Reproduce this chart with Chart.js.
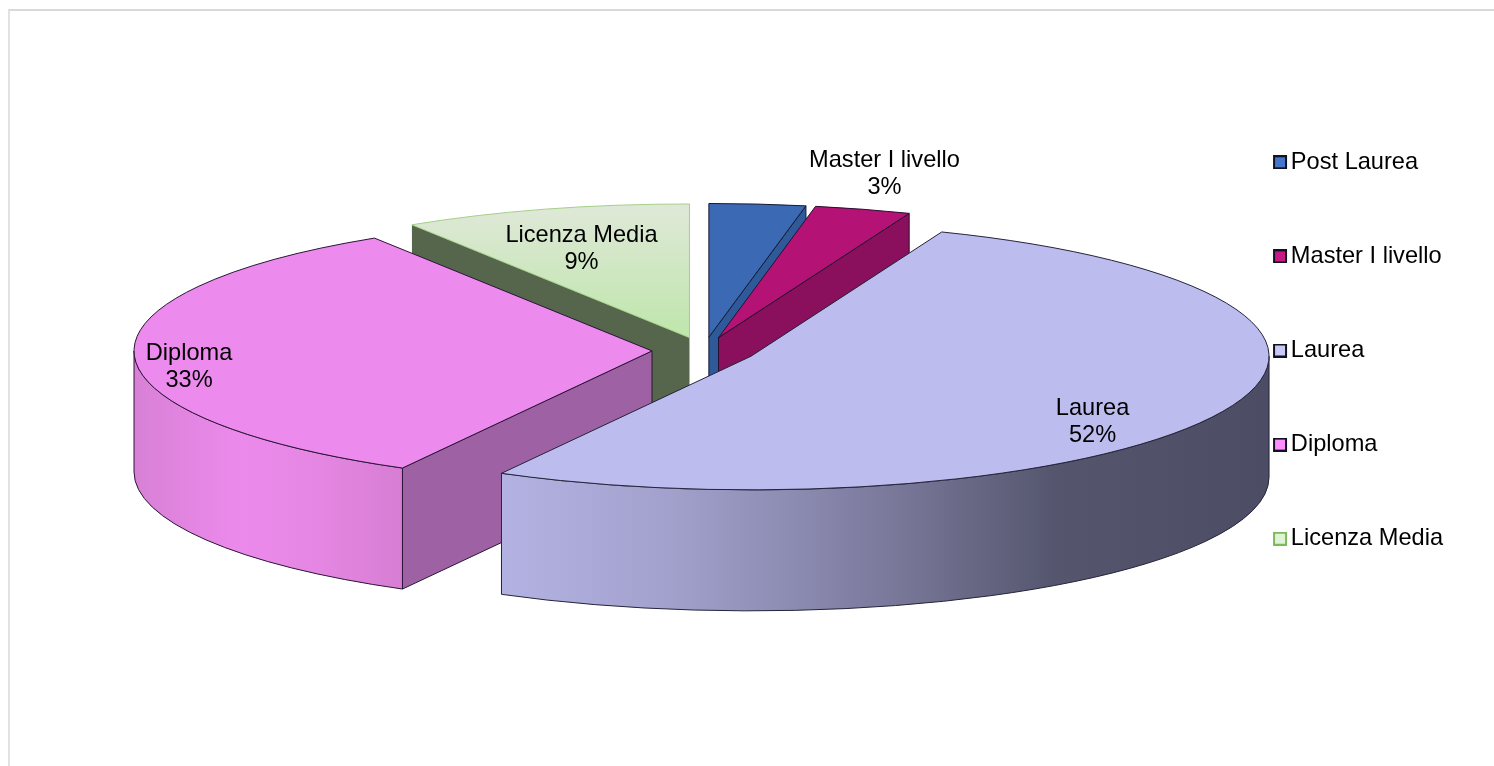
<!DOCTYPE html>
<html>
<head>
<meta charset="utf-8">
<title>Titolo di studio</title>
<script src="https://cdn.jsdelivr.net/npm/chart.js@4"></script>
<style>
  html, body { margin: 0; background: #fff; overflow: hidden; }
  #wrap { position: relative; width: 1494px; height: 766px; }
  #frame { position: absolute; left: 8px; top: 9px; right: 0; bottom: 0; border-top: 2px solid #d9d9d9; border-left: 2px solid #e2e2e2; }
  canvas { position: absolute; left: 0; top: 0; }
</style>
</head>
<body>
<div id="wrap">
  <div id="frame"></div>
  <canvas id="pieChart" width="1494" height="766"></canvas>
</div>
<script>
const categories = ['Post Laurea', 'Master I livello', 'Laurea', 'Diploma', 'Licenza Media'];
const percentages = [3, 3, 52, 33, 9];

// colori delle facce
const topColors = ['#3c69b4', '#b51276', '#bdbcee', '#ed8aed', null];
const wallColors = ['#2f5a99', '#8a0f5c', '#8f8fb8', '#9e62a4', '#56664c'];
const legendColors = ['#4477cc', '#c81888', '#c9c8f6', '#ff8cff', '#dff3d5'];
const legendBorders = ['#10131f', '#10131f', '#10131f', '#10131f', '#7fb85a'];
const edgeColors = ['#151a33', '#2a1030', '#23233a', '#2a1536', '#a5cf88'];

// fianchi curvi: gradiente orizzontale per fetta
const sideStops = {
  2: [[0, '#b3b2e2'], [0.22, '#a2a1cd'], [0.5, '#7b7a9c'], [0.72, '#55566e'], [1, '#4c4d64']],
  3: [[0, '#d880d6'], [0.4, '#ec8aec'], [0.7, '#e486e2'], [1, '#d77dd3']]
};

// ordine di disegno: dal fondo verso l'osservatore
const drawOrder = [4, 0, 1, 3, 2];
const squash = 0.258;
const depth = 121;
const explode = 52;
const fontFamily = '"Liberation Sans", Arial, sans-serif';
const fontSize = 23.6;

// posizione delle etichette rispetto al vertice della fetta
const labelOffsets = [null, [166, -163.5], [341.5, 66], [-463, 16], [-108, -89]];

function sliceGeometry(arc) {
  const mid = (arc.startAngle + arc.endAngle) / 2;
  return {
    ax: arc.x + explode * Math.cos(mid),
    ay: arc.y + squash * explode * Math.sin(mid),
    rx: arc.outerRadius,
    ry: arc.outerRadius * squash,
    mid
  };
}

function drawSide(ctx, g, from, to, i) {
  const x0 = g.ax + g.rx * Math.cos(to);
  const x1 = g.ax + g.rx * Math.cos(from);
  const left = Math.min(x0, x1), right = Math.max(x0, x1);
  const grad = ctx.createLinearGradient(left, 0, right, 0);
  sideStops[i].forEach(s => grad.addColorStop(s[0], s[1]));
  ctx.beginPath();
  ctx.ellipse(g.ax, g.ay, g.rx, g.ry, 0, from, to);
  ctx.ellipse(g.ax, g.ay + depth, g.rx, g.ry, 0, to, from, true);
  ctx.closePath();
  ctx.fillStyle = grad;
  ctx.fill();
  ctx.stroke();
}

function drawRadialWall(ctx, g, angle, i) {
  const ex = g.ax + g.rx * Math.cos(angle);
  const ey = g.ay + g.ry * Math.sin(angle);
  ctx.beginPath();
  ctx.moveTo(g.ax, g.ay);
  ctx.lineTo(ex, ey);
  ctx.lineTo(ex, ey + depth);
  ctx.lineTo(g.ax, g.ay + depth);
  ctx.closePath();
  ctx.fillStyle = wallColors[i];
  ctx.fill();
  if (i !== 4) ctx.stroke();
}

const pie3d = {
  id: 'pie3d',
  beforeDatasetsDraw(chart) {
    const ctx = chart.ctx;
    const arcs = chart.getDatasetMeta(0).data;
    drawOrder.forEach(i => {
      const arc = arcs[i];
      const g = sliceGeometry(arc);
      ctx.save();
      ctx.lineWidth = 1;
      ctx.lineJoin = 'round';
      ctx.strokeStyle = edgeColors[i];

      // solo le pareti radiali rivolte verso l'osservatore
      if (Math.cos(arc.startAngle) < 0) drawRadialWall(ctx, g, arc.startAngle, i);
      if (Math.cos(arc.endAngle) > 0) drawRadialWall(ctx, g, arc.endAngle, i);

      // fianco curvo solo nel tratto rivolto in avanti
      const from = Math.max(arc.startAngle, 0);
      const to = Math.min(arc.endAngle, Math.PI);
      if (to > from && sideStops[i]) drawSide(ctx, g, from, to, i);

      // faccia superiore: l'arco di Chart.js schiacciato in ellisse
      ctx.save();
      ctx.translate(g.ax - arc.x, g.ay);
      ctx.scale(1, squash);
      ctx.translate(0, -arc.y);
      arc.draw(ctx);
      ctx.restore();

      ctx.beginPath();
      ctx.moveTo(g.ax, g.ay);
      ctx.ellipse(g.ax, g.ay, g.rx, g.ry, 0, arc.startAngle, arc.endAngle);
      ctx.closePath();
      ctx.stroke();
      ctx.restore();
    });

    ctx.save();
    ctx.fillStyle = '#000';
    ctx.font = fontSize + 'px ' + fontFamily;
    ctx.textAlign = 'center';
    ctx.textBaseline = 'middle';
    arcs.forEach((arc, i) => {
      if (!labelOffsets[i]) return;
      const g = sliceGeometry(arc);
      const x = g.ax + labelOffsets[i][0];
      const y = g.ay + labelOffsets[i][1];
      ctx.fillText(categories[i], x, y - 13.5);
      ctx.fillText(percentages[i] + '%', x, y + 13.5);
    });
    ctx.restore();
    return false;
  }
};

// quadratino della legenda con margine trasparente a sinistra
function legendSwatch(i) {
  const c = document.createElement('canvas');
  c.width = 20;
  c.height = 14;
  const g = c.getContext('2d');
  g.fillStyle = legendColors[i];
  g.fillRect(5, 1, 12, 12);
  g.strokeStyle = legendBorders[i];
  g.lineWidth = 2;
  g.strokeRect(5, 1, 12, 12);
  return c;
}

new Chart(document.getElementById('pieChart').getContext('2d'), {
  type: 'pie',
  plugins: [pie3d],
  data: {
    labels: categories,
    datasets: [{
      data: percentages,
      borderWidth: 0,
      radius: 518,
      backgroundColor: (c) => {
        if (c.dataIndex !== 4) return topColors[c.dataIndex];
        const area = c.chart.chartArea;
        if (!area) return '#d0e6c0';
        const cy = (area.top + area.bottom) / 2;
        const grad = c.chart.ctx.createLinearGradient(0, cy - 518, 0, cy);
        grad.addColorStop(0, '#dfe8d8');
        grad.addColorStop(1, '#bfe6ab');
        return grad;
      }
    }]
  },
  options: {
    responsive: false,
    animation: false,
    events: [],
    layout: { padding: { left: 199.5, right: 41, top: 0, bottom: 65 } },
    plugins: {
      tooltip: { enabled: false },
      legend: {
        display: true,
        position: 'right',
        labels: {
          color: '#000',
          font: { family: fontFamily, size: fontSize },
          usePointStyle: true,
          boxWidth: 0.1,
          padding: 70.5,
          generateLabels: (chart) => categories.map((text, i) => ({
            text,
            index: i,
            pointStyle: legendSwatch(i),
            fontColor: '#000',
            hidden: false
          }))
        }
      }
    }
  }
});
</script>
</body>
</html>
